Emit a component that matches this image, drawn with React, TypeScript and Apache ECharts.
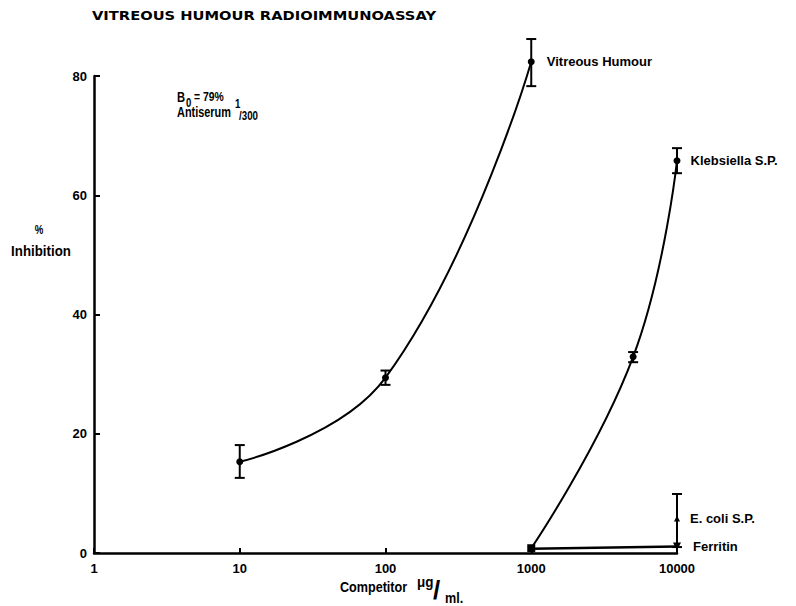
import React, { useEffect, useRef } from "react";
import * as echarts from "echarts";

const xTicks = [1, 10, 100, 1000, 10000];
const yTicks = [0, 20, 40, 60, 80];

// [concentration, % inhibition]
const vitreous = [[10, 15.3], [100, 29.4], [1000, 82.4]];
const vitreousErr = [[10, 12.6, 18.1], [100, 28.2, 30.6], [1000, 78.3, 86.2]];

const klebsiella = [[1000, 0.8], [5000, 32.9], [10000, 65.8]];
const klebsiellaErr = [[5000, 32.0, 33.7], [10000, 63.7, 67.9]];

const ecoli = [[10000, 5.8]];
const ecoliErr = [[10000, 1.0, 9.9]];

const ferritin = [[1000, 0.7], [10000, 1.1]];

const FONT = "'Liberation Sans', Arial, sans-serif";

function errSeries(data: number[][]) {
  return {
    type: "custom",
    data,
    silent: true,
    z: 5,
    renderItem: (params: any, api: any) => {
      const x = api.value(0);
      const lo = api.coord([x, api.value(1)]);
      const hi = api.coord([x, api.value(2)]);
      const w = 5;
      const style = { stroke: "#000", lineWidth: 2 };
      return {
        type: "group",
        children: [
          { type: "line", shape: { x1: lo[0], y1: lo[1], x2: hi[0], y2: hi[1] }, style },
          { type: "line", shape: { x1: lo[0] - w, y1: lo[1], x2: lo[0] + w, y2: lo[1] }, style },
          { type: "line", shape: { x1: hi[0] - w, y1: hi[1], x2: hi[0] + w, y2: hi[1] }, style },
        ],
      };
    },
  };
}

function seriesLabel(text: string, dx = 8) {
  return {
    show: true,
    position: "right",
    distance: dx,
    formatter: text,
    color: "#000",
    opacity: 1,
    fontFamily: FONT,
    fontWeight: "bold",
    fontSize: 13,
  };
}

function txt(text: string, x: number, y: number, fontSize: number, extra: any = {}) {
  return {
    type: "text",
    x,
    y,
    scaleX: extra.scaleX ?? 0.8,
    style: {
      text,
      fontFamily: extra.fontFamily ?? FONT,
      fontWeight: "bold",
      fontSize,
      fill: "#000",
      align: extra.align ?? "left",
      verticalAlign: "middle",
    },
  };
}

export default function App() {
  const ref = useRef<HTMLDivElement>(null);
  useEffect(() => {
    if (!ref.current) return;
    const chart = echarts.init(ref.current, undefined, { renderer: "svg" });
    const lastLabel = (arr: number[][], text: string, dx = 8) =>
      arr.map((d, i) =>
        i === arr.length - 1 ? { value: d, label: seriesLabel(text, dx) } : { value: d }
      );
    chart.setOption({
      animation: false,
      backgroundColor: "#fff",
      grid: { left: 94, right: 119, top: 76, bottom: 53, containLabel: false },
      xAxis: {
        type: "log",
        logBase: 10,
        min: xTicks[0],
        max: xTicks[xTicks.length - 1],
        axisLine: { show: true, lineStyle: { color: "#000", width: 2.5 } },
        axisTick: { show: true, inside: true, length: 5, lineStyle: { color: "#000", width: 2 } },
        minorTick: { show: false },
        splitLine: { show: false },
        axisLabel: {
          color: "#000",
          fontFamily: FONT,
          fontWeight: "bold",
          fontSize: 13,
          margin: 9,
          formatter: (v: number) => String(Math.round(v)),
        },
      },
      yAxis: {
        type: "value",
        min: yTicks[0],
        max: yTicks[yTicks.length - 1],
        interval: 20,
        axisLine: { show: true, lineStyle: { color: "#000", width: 2.5 } },
        axisTick: { show: true, inside: true, length: 6, lineStyle: { color: "#000", width: 2 } },
        splitLine: { show: false },
        axisLabel: {
          color: "#000",
          fontFamily: FONT,
          fontWeight: "bold",
          fontSize: 13,
          margin: 7,
        },
      },
      series: [
        {
          type: "line",
          name: "Vitreous Humour",
          data: lastLabel(vitreous, "Vitreous Humour", 12),
          smooth: 0.45,
          clip: false,
          symbol: "circle",
          symbolSize: 7,
          itemStyle: { color: "#000" },
          lineStyle: { color: "#000", width: 2 },
          z: 4,
        },
        {
          type: "line",
          name: "Klebsiella S.P.",
          data: klebsiella.map((d, i) =>
            i === 0
              ? { value: d, symbol: "rect", symbolSize: 8 }
              : i === klebsiella.length - 1
              ? { value: d, label: seriesLabel("Klebsiella S.P.", 10) }
              : { value: d }
          ),
          smooth: 0.45,
          clip: false,
          symbol: "circle",
          symbolSize: 7,
          itemStyle: { color: "#000" },
          lineStyle: { color: "#000", width: 2 },
          z: 4,
        },
        {
          type: "line",
          name: "Ferritin",
          data: ferritin.map((d, i) =>
            i === ferritin.length - 1
              ? { value: d, symbol: "triangle", symbolRotate: 180, symbolSize: 8, label: seriesLabel("Ferritin", 12) }
              : { value: d, symbol: "none" }
          ),
          clip: false,
          itemStyle: { color: "#000" },
          lineStyle: { color: "#000", width: 2.5 },
          z: 4,
        },
        {
          type: "scatter",
          name: "E. coli S.P.",
          data: lastLabel(ecoli, "E. coli S.P.", 10),
          symbol: "triangle",
          symbolSize: 6,
          clip: false,
          itemStyle: { color: "#000", opacity: 1 },
          z: 4,
        },
        errSeries(vitreousErr),
        errSeries(klebsiellaErr),
        errSeries(ecoliErr),
      ],
      graphic: [
        txt("VITREOUS HUMOUR RADIOIMMUNOASSAY", 92, 15, 13, { fontFamily: "'DejaVu Sans', sans-serif", scaleX: 1.13 }),
        txt("B", 177, 98, 14),
        txt("0", 186, 103, 12),
        txt("= 79%", 194, 96, 13),
        txt("Antiserum", 177, 113, 14, { scaleX: 0.78 }),
        txt("1", 235, 104, 12),
        txt("/300", 239, 115, 13, { scaleX: 0.75 }),
        txt("%", 39, 230, 12, { align: "center" }),
        txt("Inhibition", 41, 251, 14, { align: "center", scaleX: 0.95 }),
        txt("Competitor", 340, 587, 14, { scaleX: 0.9 }),
        txt("μg", 417, 582, 15, { scaleX: 0.9 }),
        txt("/", 433, 590, 26, { scaleX: 1 }),
        txt("ml.", 445, 598, 14, { scaleX: 0.9 }),
      ],
    });
    return () => chart.dispose();
  }, []);
  return <div ref={ref} style={{ width: 796, height: 606, position: "absolute", left: 0, top: 0 }} />;
}
